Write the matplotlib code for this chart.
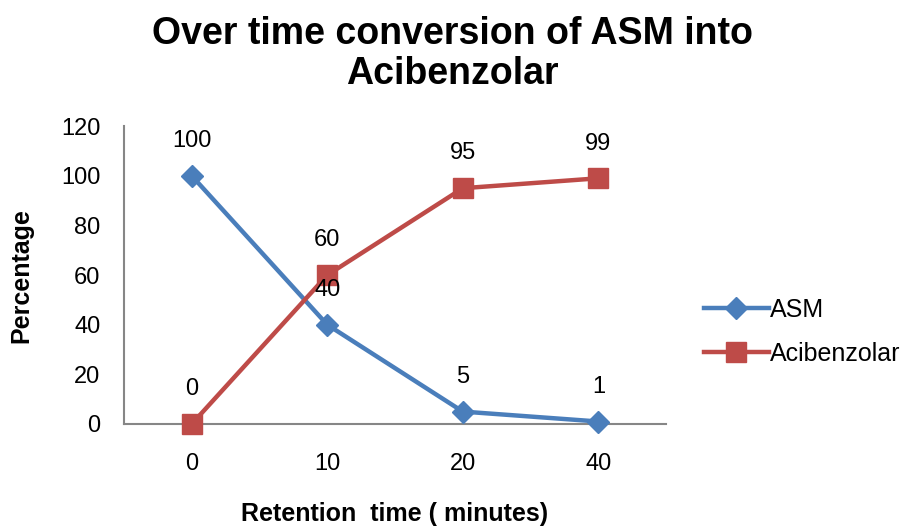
import matplotlib
matplotlib.use('Agg')
import matplotlib.pyplot as plt
import numpy as np

plt.rcParams['font.family'] = ['Liberation Sans', 'DejaVu Sans']

times = ['0', '10', '20', '40']
asm = [100, 40, 5, 1]
acibenzolar = [0, 60, 95, 99]
yticks = [0, 20, 40, 60, 80, 100, 120]

blue = '#4a7ebb'
red = '#be4b48'

fig = plt.figure(figsize=(9.05, 5.29), dpi=100)
ax = fig.add_axes([0.137, 0.1985, 0.599, 0.563])

x = np.arange(len(times))
ax.plot(x, asm, color=blue, lw=3.2, marker='D', ms=11, label='ASM', clip_on=False, zorder=3)
ax.plot(x, acibenzolar, color=red, lw=3.2, marker='s', ms=14, label='Acibenzolar',
        clip_on=False, zorder=3)

for xi, v in zip(x, asm):
    ax.annotate(str(v), (xi, v), xytext=(0, 25), textcoords='offset points',
                ha='center', va='center', fontsize=17)
for xi, v in zip(x, acibenzolar):
    ax.annotate(str(v), (xi, v), xytext=(0, 25), textcoords='offset points',
                ha='center', va='center', fontsize=17)

ax.set_xlim(-0.5, 3.5)
ax.set_ylim(0, 120)
ax.set_xticks(x)
ax.set_xticklabels(times)
ax.set_yticks(yticks)
ax.tick_params(length=0, labelsize=17)
ax.tick_params(axis='x', pad=21)
ax.tick_params(axis='y', pad=17)
for s in ['top', 'right']:
    ax.spines[s].set_visible(False)
for s in ['left', 'bottom']:
    ax.spines[s].set_color('#868686')
    ax.spines[s].set_linewidth(1.5)

ax.set_xlabel('Retention  time ( minutes)', fontsize=18, fontweight='bold', labelpad=19)
ax.set_ylabel('Percentage', fontsize=18, fontweight='bold', labelpad=20)
fig.suptitle('Over time conversion of ASM into\nAcibenzolar', x=0.5, y=0.97,
             fontsize=27, fontweight='bold', linespacing=1.15)

ax.legend(loc='center left', bbox_to_anchor=(1.028, 0.31), frameon=False,
          fontsize=18, handlelength=2.6, handletextpad=0.05, labelspacing=0.8)

fig.savefig('out.png', dpi=100)
